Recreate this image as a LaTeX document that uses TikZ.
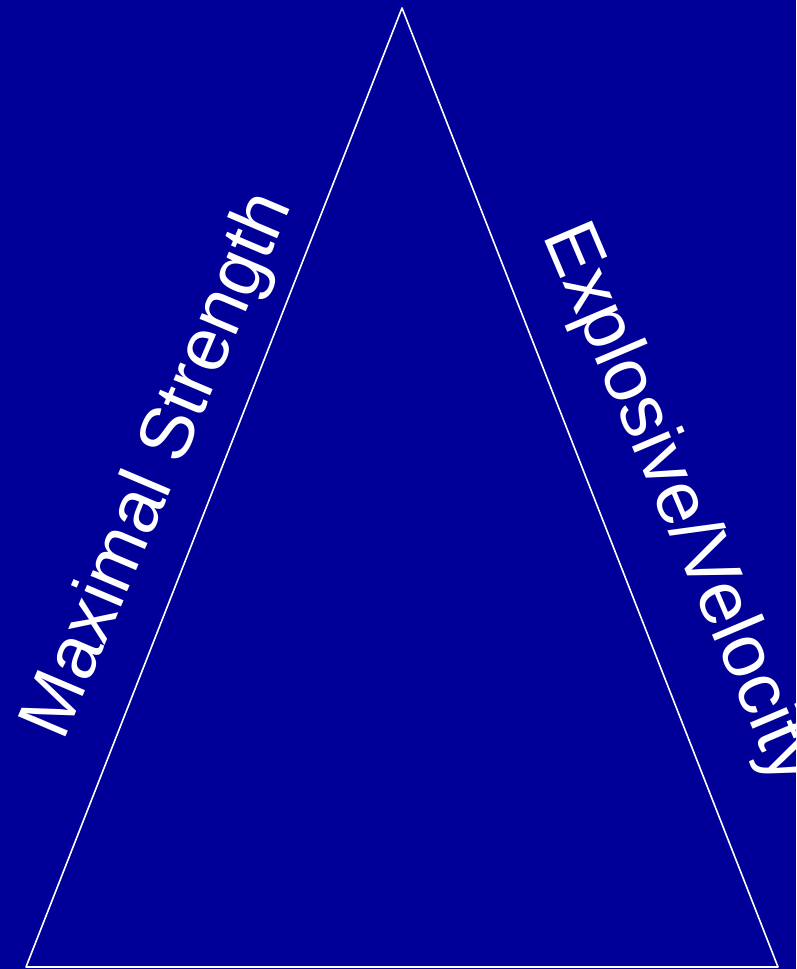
\documentclass[tikz,border=0pt]{standalone}
\usepackage{fontspec}
\setmainfont{Liberation Sans}
\usetikzlibrary{positioning}
\definecolor{cBg}{HTML}{000099}
\tikzset{
  sidelbl/.style={text=white, font=\fontsize{75}{90}\selectfont, inner sep=0pt},
  edgeln/.style={draw=white, line width=1.6pt, line join=round},
}

\begin{document}
\begin{tikzpicture}[x=1pt,y=-1pt]
\fill[cBg] (0,0) rectangle (796,969);
\useasboundingbox (0,0) rectangle (796,969);
% ---- triangle corners
\coordinate (apex) at (402,8);
\coordinate (baseL) at (26,967);
\coordinate (baseR) at (778,967);
\draw[edgeln] (apex) -- (baseR) -- (baseL) -- cycle;
% ---- side labels
\node[sidelbl, rotate=67] (lstr) at (160,466) {Maximal Strength};
\node[sidelbl, rotate=-67] (rvel) at (678,504) {Explosive/Velocity};
\end{tikzpicture}
\end{document}
